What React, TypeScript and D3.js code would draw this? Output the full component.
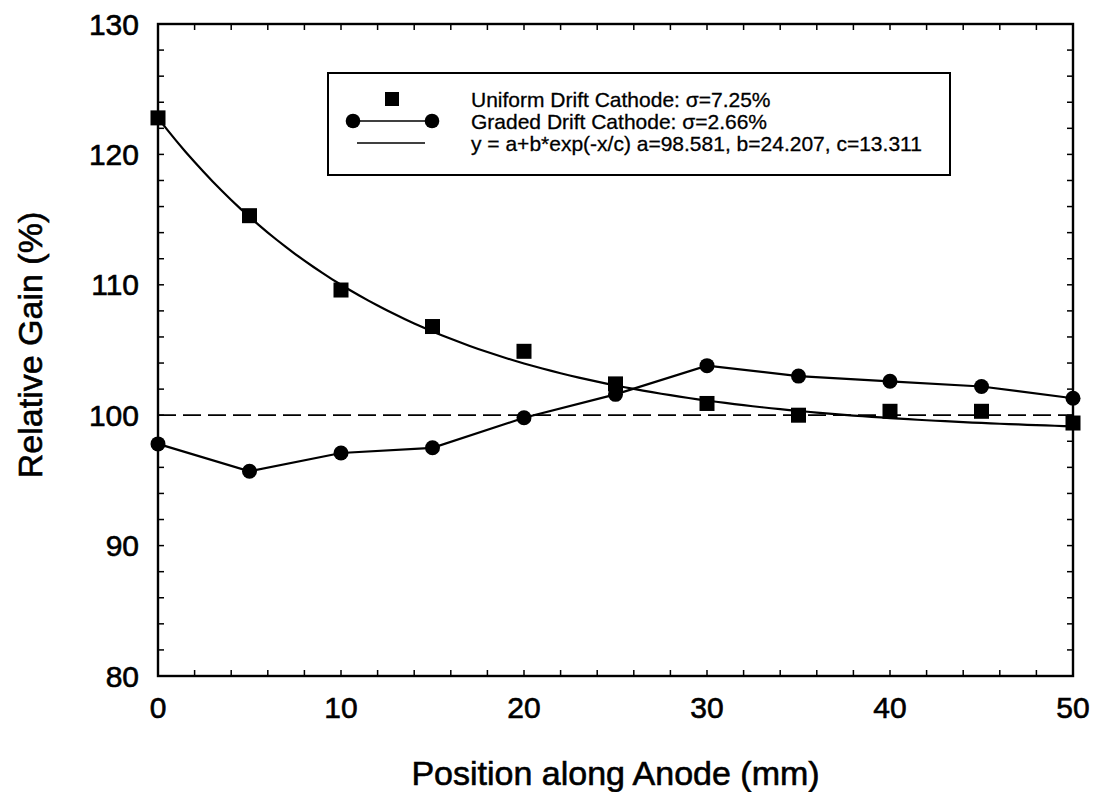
import React from "react";
import * as d3 from "d3";

const positions = [0, 5, 10, 15, 20, 25, 30, 35, 40, 45, 50];
const uniformGain = [122.8, 115.3, 109.6, 106.8, 104.9, 102.4, 100.9, 100.0, 100.3, 100.3, 99.4];
const gradedGain = [97.8, 95.7, 97.1, 97.5, 99.8, 101.6, 103.8, 103.0, 102.6, 102.2, 101.3];
const fitParams = { a: 98.581, b: 24.207, c: 13.311 };
const xTicks = [0, 10, 20, 30, 40, 50];
const yTicks = [80, 90, 100, 110, 120, 130];
const referenceLevel = 100;
const legendLabels = [
  "Uniform Drift Cathode: \u03c3=7.25%",
  "Graded Drift Cathode: \u03c3=2.66%",
  "y = a+b*exp(-x/c) a=98.581, b=24.207, c=13.311",
];

const W = 1096;
const H = 792;
const M = { left: 158, right: 1073, top: 24, bottom: 676 };
const FONT = "'Liberation Sans', Arial, Helvetica, sans-serif";

export default function App() {
  const x = d3.scaleLinear().domain([0, 50]).range([M.left, M.right]);
  const y = d3.scaleLinear().domain([80, 130]).range([M.bottom, M.top]);

  const minorX = d3.range(0, 50.001, 2);
  const minorY = d3.range(80, 130.001, 2);
  const tickLen = 6;

  const fitXs = d3.range(0, 50.001, 0.5);
  const fitLine = d3
    .line<number>()
    .x((d) => x(d))
    .y((d) => y(fitParams.a + fitParams.b * Math.exp(-d / fitParams.c)));

  const gradedLine = d3
    .line<number>()
    .x((_, i) => x(positions[i]))
    .y((d) => y(d));

  const sq = 15;
  const r = 7.5;

  const lgX = 328, lgY = 73, lgW = 622, lgH = 102;
  const rowY = [99, 121, 143];
  const textX = 471;
  const heavy = { stroke: "#000", strokeWidth: 0.6 };

  return (
    <div style={{ position: "absolute", left: 0, top: 0 }}>
      <svg width={W} height={H} style={{ display: "block", background: "#fff" }} fontFamily={FONT}>
        <rect x={0} y={0} width={W} height={H} fill="#fff" />
        {/* reference dashed line */}
        <line x1={x(0)} x2={x(50)} y1={y(referenceLevel)} y2={y(referenceLevel)} stroke="#000" strokeWidth={1.8} strokeDasharray="18,7" />
        {/* fit curve */}
        <path d={fitLine(fitXs) || ""} fill="none" stroke="#000" strokeWidth={2.2} />
        {/* graded line */}
        <path d={gradedLine(gradedGain) || ""} fill="none" stroke="#000" strokeWidth={2.2} />
        {/* uniform squares */}
        {uniformGain.map((v, i) => (
          <rect key={"s" + i} x={x(positions[i]) - sq / 2} y={y(v) - sq / 2} width={sq} height={sq} fill="#000" />
        ))}
        {/* graded circles */}
        {gradedGain.map((v, i) => (
          <circle key={"c" + i} cx={x(positions[i])} cy={y(v)} r={r} fill="#000" />
        ))}

        {/* frame */}
        <rect x={M.left} y={M.top} width={M.right - M.left} height={M.bottom - M.top} fill="none" stroke="#000" strokeWidth={2.4} />
        {/* x ticks bottom & top */}
        {minorX.map((t) => (
          <g key={"xt" + t}>
            <line x1={x(t)} x2={x(t)} y1={M.bottom} y2={M.bottom - tickLen} stroke="#000" strokeWidth={1.5} />
            <line x1={x(t)} x2={x(t)} y1={M.top} y2={M.top + tickLen} stroke="#000" strokeWidth={1.5} />
          </g>
        ))}
        {minorY.map((t) => (
          <g key={"yt" + t}>
            <line x1={M.left} x2={M.left + tickLen} y1={y(t)} y2={y(t)} stroke="#000" strokeWidth={1.5} />
            <line x1={M.right} x2={M.right - tickLen} y1={y(t)} y2={y(t)} stroke="#000" strokeWidth={1.5} />
          </g>
        ))}
        {/* tick labels */}
        {xTicks.map((t) => (
          <text key={"xl" + t} x={x(t)} y={718} textAnchor="middle" fontSize={30} fill="#000" {...heavy}>
            {t}
          </text>
        ))}
        {yTicks.map((t) => (
          <text key={"yl" + t} x={139} y={y(t)} textAnchor="end" dominantBaseline="central" fontSize={30} fill="#000" {...heavy}>
            {t}
          </text>
        ))}
        {/* axis titles */}
        <text x={(M.left + M.right) / 2} y={785} textAnchor="middle" fontSize={34} fill="#000" {...heavy}>
          Position along Anode (mm)
        </text>
        <text transform={`translate(42,${(M.top + M.bottom) / 2 - 5}) rotate(-90)`} textAnchor="middle" fontSize={34} fill="#000" {...heavy}>
          Relative Gain (%)
        </text>

        {/* legend */}
        <rect x={lgX} y={lgY} width={lgW} height={lgH} fill="#fff" stroke="#000" strokeWidth={2} />
        <rect x={392 - 7} y={rowY[0] - 7} width={14} height={14} fill="#000" />
        <line x1={353} x2={432} y1={rowY[1]} y2={rowY[1]} stroke="#000" strokeWidth={1.5} />
        <circle cx={353} cy={rowY[1]} r={7.3} fill="#000" />
        <circle cx={432} cy={rowY[1]} r={7.3} fill="#000" />
        <line x1={357} x2={425} y1={rowY[2]} y2={rowY[2]} stroke="#000" strokeWidth={1.5} />
        {legendLabels.map((l, i) => (
          <text key={"lg" + i} x={textX} y={rowY[i]} dominantBaseline="central" fontSize={21} fill="#000" stroke="#000" strokeWidth={0.3}>
            {l}
          </text>
        ))}
      </svg>
    </div>
  );
}
